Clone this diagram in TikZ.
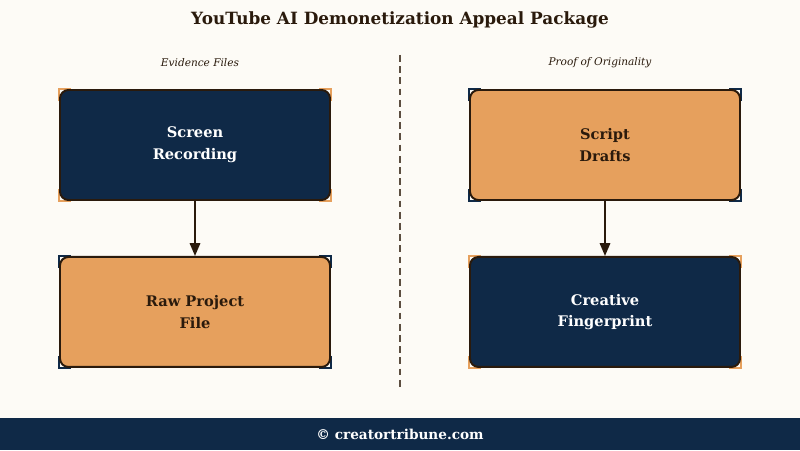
\documentclass[tikz,border=0pt]{standalone}
\usepackage{fontspec}
\setmainfont{DejaVu Serif}
\usetikzlibrary{positioning, arrows.meta, backgrounds}
\definecolor{navy}{HTML}{0F2947}
\definecolor{peach}{HTML}{E6A05D}
\definecolor{ink}{HTML}{2A1A0C}
\definecolor{cream}{HTML}{FDFBF6}
\definecolor{divider}{HTML}{5C4E40}
\def\boxgap{1.375cm}
\def\tick{0.3cm}
\tikzstyle{card}=[rectangle, rounded corners=6pt, draw=ink, line width=1.4pt, minimum width=6.75cm, minimum height=2.75cm, align=center, font=\bfseries\fontsize{10.4}{15.5}\selectfont]
\tikzstyle{navy card}=[card, fill=navy, text=white]
\tikzstyle{peach card}=[card, fill=peach, text=ink]
\tikzstyle{flow}=[-{Triangle[length=0.32cm, width=0.26cm]}, draw=ink, line width=1.3pt]
\tikzstyle{column label}=[font=\itshape\fontsize{7.5}{9}\selectfont, text=ink]

\begin{document}
\begin{tikzpicture}

			% Title and column labels
			\node[font=\bfseries\fontsize{12}{14}\selectfont, text=ink] (title) at (10,10.75) {YouTube AI Demonetization Appeal Package};
			\node[column label] (evid) at (5,9.675) {Evidence Files};
			\node[column label] (orig) at (15,9.675) {Proof of Originality};

			% Draw the cards
			\node[navy card] (scr) at (4.875,7.625) {Screen\\Recording};
			\node[peach card, below=\boxgap of scr] (raw) {Raw Project\\File};
			\node[peach card] (scp) at (15.125,7.625) {Script\\Drafts};
			\node[navy card, below=\boxgap of scp] (fng) {Creative\\Fingerprint};

			% Connect the cards
			\draw[flow] (scr) -- (raw);
			\draw[flow] (scp) -- (fng);

			% Divider and footer
			\coordinate (divtop) at (10,9.875);
			\coordinate (divbot) at (10,1.5);
			\draw[divider, line width=1.1pt, dash pattern=on 0.17cm off 0.11cm] (divtop) -- (divbot);
			\fill[navy] (0,0) rectangle (20,0.8);
			\node[font=\bfseries\fontsize{9.7}{12}\selectfont, text=white] (foot) at (10,0.4) {© creatortribune.com};

			% Page and corner brackets behind the cards
			\begin{scope}[on background layer]
			\fill[cream] (0,0) rectangle (20,11.25);
			\foreach \name / \col in {scr/peach, raw/navy, scp/navy, fng/peach} {
			\draw[\col, line width=1.6pt] ([yshift=\tick]\name.south west) |- ([xshift=\tick]\name.south west);
			\draw[\col, line width=1.6pt] ([yshift=-\tick]\name.north west) |- ([xshift=\tick]\name.north west);
			\draw[\col, line width=1.6pt] ([yshift=\tick]\name.south east) |- ([xshift=-\tick]\name.south east);
			\draw[\col, line width=1.6pt] ([yshift=-\tick]\name.north east) |- ([xshift=-\tick]\name.north east);
			}
			\end{scope}
		\end{tikzpicture}
\end{document}
